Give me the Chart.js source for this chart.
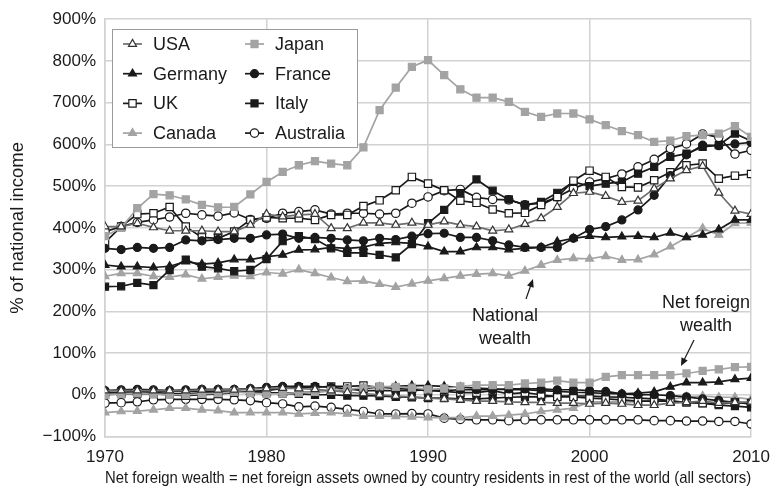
<!DOCTYPE html>
<html>
<head>
<meta charset="utf-8">
<script src="https://cdn.jsdelivr.net/npm/chart.js@4.4.0/dist/chart.umd.min.js"></script>
<style>
  html, body { margin: 0; padding: 0; background: #fff; }
</style>
</head>
<body>
<canvas id="chart" width="781" height="495"></canvas>
<script>
// years on the x axis
const years = [];
for (let y = 1970; y <= 2010; y++) years.push(y);

// national wealth, % of national income
const usaNW = [403, 403, 411, 401, 393, 393, 393, 391, 391, 407, 433, 427, 431, 433, 399, 399, 412, 412, 407, 412,
  407, 415, 407, 403, 393, 396, 409, 423, 450, 483, 486, 476, 462, 465, 494, 518, 538, 548, 484, 441, 433];
const japanNW = [380, 400, 447, 481, 478, 468, 455, 449, 450, 480, 510, 534, 550, 560, 554, 550, 593, 682, 736, 786,
  802, 766, 732, 712, 712, 702, 678, 666, 674, 674, 660, 646, 632, 622, 606, 609, 620, 622, 626, 644, 618];
const germanyNW = [311, 307, 307, 305, 308, 319, 313, 316, 324, 324, 331, 335, 347, 348, 353, 351, 354, 363, 365, 363,
  355, 343, 343, 353, 353, 348, 351, 353, 367, 375, 380, 377, 379, 380, 377, 388, 377, 383, 396, 419, 419];
const franceNW = [351, 348, 353, 351, 353, 371, 369, 372, 375, 375, 383, 385, 375, 377, 375, 371, 369, 375, 372, 380,
  386, 387, 377, 377, 369, 359, 353, 353, 353, 375, 396, 403, 419, 443, 478, 525, 575, 598, 597, 601, 605];
const ukNW = [365, 403, 433, 435, 450, 403, 377, 375, 391, 419, 425, 423, 423, 419, 431, 431, 452, 466, 490, 522,
  506, 490, 465, 460, 444, 435, 436, 455, 474, 513, 537, 522, 498, 497, 514, 533, 550, 554, 518, 525, 529];
const italyNW = [259, 260, 268, 263, 299, 324, 307, 303, 296, 299, 325, 368, 380, 373, 351, 340, 340, 335, 329, 361,
  411, 443, 483, 516, 489, 468, 455, 462, 484, 510, 500, 506, 510, 530, 546, 570, 578, 594, 598, 626, 608];
const canadaNW = [284, 291, 291, 284, 282, 288, 278, 282, 285, 284, 293, 290, 300, 291, 281, 272, 273, 265, 258, 266,
  273, 279, 285, 289, 291, 285, 297, 311, 323, 327, 326, 332, 323, 324, 336, 355, 377, 399, 383, 411, 412];
const australiaNW = [391, 403, 413, 419, 426, 435, 431, 428, 436, 420, 423, 435, 439, 443, 433, 435, 435, 433, 435, 459,
  474, 489, 492, 473, 468, 467, 455, 459, 474, 494, 510, 518, 529, 546, 564, 590, 601, 625, 617, 577, 586];

// net foreign wealth, % of national income
const usaNFW = [10, 10, 10, 10, 10, 10, 12, 12, 12, 14, 15, 16, 15, 13, 10, 6, 3, 0, -3, -5,
  -8, -10, -12, -15, -15, -17, -18, -18, -20, -20, -22, -20, -22, -25, -25, -20, -18, -15, -20, -18, -17];
const japanNFW = [0, 2, 4, 2, 0, 0, 2, 4, 7, 4, 2, 3, 5, 7, 10, 13, 17, 20, 19, 17,
  13, 15, 20, 23, 23, 23, 27, 29, 34, 29, 29, 43, 47, 47, 47, 47, 51, 57, 61, 66, 67];
const germanyNFW = [5, 5, 6, 7, 8, 8, 8, 8, 9, 7, 5, 4, 5, 7, 9, 12, 15, 18, 20, 22,
  22, 20, 18, 16, 14, 12, 12, 10, 8, 6, 5, 3, 2, 4, 7, 19, 29, 29, 31, 37, 40];
const franceNFW = [10, 12, 13, 12, 10, 12, 13, 13, 13, 15, 18, 20, 20, 20, 18, 14, 10, 10, 10, 10,
  12, 10, 12, 12, 12, 14, 14, 14, 12, 12, 10, 8, 2, 0, 0, -2, -5, -10, -14, -18, -22];
const ukNFW = [0, 2, 3, 2, 0, -2, 0, 2, 5, 8, 10, 15, 18, 18, 20, 20, 22, 18, 15, 13,
  10, 8, 5, 5, 10, 2, 5, 0, -5, -5, -8, -10, -12, -15, -15, -15, -18, -20, -22, -18, -20];
const italyNFW = [5, 6, 8, 6, 2, 2, 4, 5, 6, 6, 5, 3, 2, 0, 0, -2, -2, -3, -5, -6,
  -8, -8, -10, -10, -8, -6, -5, -5, -3, -3, -3, -5, -6, -8, -10, -15, -18, -20, -25, -27, -30];
const canadaNFW = [-43, -40, -39, -36, -32, -32, -36, -38, -43, -43, -43, -43, -46, -44, -43, -46, -51, -51, -52, -53,
  -55, -55, -55, -51, -51, -49, -46, -40, -36, -32, -17, -17, -17, -17, -12, -11, -5, -3, -6, -6, -11];
const australiaNFW = [-20, -19, -17, -12, -11, -11, -11, -11, -12, -14, -19, -22, -29, -27, -30, -35, -40, -46, -46, -45,
  -46, -56, -59, -60, -60, -62, -60, -60, -60, -60, -60, -60, -60, -60, -62, -62, -63, -63, -64, -64, -70];

const yTicks = [-100, 0, 100, 200, 300, 400, 500, 600, 700, 800, 900];

const FONT = "'Liberation Sans', Arial, sans-serif";
const GRAY = '#a3a3a3';

// look of each country
const countries = [
  { name: 'USA', nw: usaNW, nfw: usaNFW, line: '#6e6e6e', fill: '#ffffff', edge: '#333333', shape: 'triangle', r: 4.6 },
  { name: 'Japan', nw: japanNW, nfw: japanNFW, line: GRAY, fill: GRAY, edge: GRAY, shape: 'rect', r: 5 },
  { name: 'Germany', nw: germanyNW, nfw: germanyNFW, line: '#1a1a1a', fill: '#1a1a1a', edge: '#1a1a1a', shape: 'triangle', r: 4.6 },
  { name: 'France', nw: franceNW, nfw: franceNFW, line: '#1a1a1a', fill: '#1a1a1a', edge: '#1a1a1a', shape: 'circle', r: 4 },
  { name: 'UK', nw: ukNW, nfw: ukNFW, line: '#1a1a1a', fill: '#ffffff', edge: '#1a1a1a', shape: 'rect', r: 5.2 },
  { name: 'Italy', nw: italyNW, nfw: italyNFW, line: '#1a1a1a', fill: '#1a1a1a', edge: '#1a1a1a', shape: 'rect', r: 5 },
  { name: 'Canada', nw: canadaNW, nfw: canadaNFW, line: GRAY, fill: GRAY, edge: GRAY, shape: 'triangle', r: 4.6 },
  { name: 'Australia', nw: australiaNW, nfw: australiaNFW, line: '#1a1a1a', fill: '#ffffff', edge: '#1a1a1a', shape: 'circle', r: 4.2 }
];

function makeSet(c, data, kind) {
  return {
    label: c.name + ' ' + kind,
    data: data,
    borderColor: c.line,
    borderWidth: 1.7,
    pointStyle: c.shape,
    pointRadius: c.r,
    pointBackgroundColor: c.fill,
    pointBorderColor: c.edge,
    pointBorderWidth: 1.2,
    tension: 0,
    fill: false
  };
}

const datasets = [];
countries.forEach(c => datasets.push(makeSet(c, c.nw, 'national wealth')));
countries.forEach(c => datasets.push(makeSet(c, c.nfw, 'net foreign wealth')));

// legend box with line + marker, two columns
const boxLegend = {
  id: 'boxLegend',
  afterDatasetsDraw(chart) {
    const ctx = chart.ctx;
    ctx.save();
    ctx.fillStyle = '#ffffff';
    ctx.strokeStyle = '#9a9a9a';
    ctx.lineWidth = 1;
    ctx.fillRect(112.5, 29.5, 245, 118);
    ctx.strokeRect(112.5, 29.5, 245, 118);
    ctx.font = '18px ' + FONT;
    ctx.textBaseline = 'middle';
    countries.forEach((c, i) => {
      const col = i % 2, row = Math.floor(i / 2);
      const x0 = col === 0 ? 123 : 245;
      const y0 = 44 + row * 29.7;
      ctx.strokeStyle = c.line;
      ctx.lineWidth = 1.7;
      ctx.beginPath();
      ctx.moveTo(x0, y0);
      ctx.lineTo(x0 + 19, y0);
      ctx.stroke();
      ctx.fillStyle = c.fill;
      ctx.strokeStyle = c.edge;
      ctx.lineWidth = 1.2;
      Chart.helpers.drawPoint(ctx, { pointStyle: c.shape, radius: c.r, borderWidth: 1.2, rotation: 0 }, x0 + 9.5, y0);
      ctx.fillStyle = '#1a1a1a';
      ctx.textAlign = 'left';
      ctx.fillText(c.name, x0 + 30, y0 + 1);
    });
    ctx.restore();
  }
};

function arrow(ctx, x1, y1, x2, y2) {
  const a = Math.atan2(y2 - y1, x2 - x1);
  ctx.beginPath();
  ctx.moveTo(x1, y1);
  ctx.lineTo(x2 - 4 * Math.cos(a), y2 - 4 * Math.sin(a));
  ctx.stroke();
  ctx.beginPath();
  ctx.moveTo(x2, y2);
  ctx.lineTo(x2 - 8 * Math.cos(a) + 3.5 * Math.sin(a), y2 - 8 * Math.sin(a) - 3.5 * Math.cos(a));
  ctx.lineTo(x2 - 8 * Math.cos(a) - 3.5 * Math.sin(a), y2 - 8 * Math.sin(a) + 3.5 * Math.cos(a));
  ctx.closePath();
  ctx.fill();
}

// "National wealth" and "Net foreign wealth" notes
const notes = {
  id: 'notes',
  afterDatasetsDraw(chart) {
    const ctx = chart.ctx;
    ctx.save();
    ctx.fillStyle = '#1a1a1a';
    ctx.strokeStyle = '#1a1a1a';
    ctx.lineWidth = 1.2;
    ctx.font = '18px ' + FONT;
    ctx.textAlign = 'center';
    ctx.textBaseline = 'middle';
    ctx.fillText('National', 505, 316);
    ctx.fillText('wealth', 505, 339);
    ctx.fillText('Net foreign', 706, 303);
    ctx.fillText('wealth', 706, 326);
    arrow(ctx, 526, 299, 533, 279);
    arrow(ctx, 694, 340, 681, 366);
    ctx.restore();
  }
};

new Chart(document.getElementById('chart'), {
  type: 'line',
  data: { labels: years, datasets: datasets },
  options: {
    responsive: false,
    animation: false,
    layout: { padding: { top: 19, right: 22, bottom: 0, left: 0 } },
    plugins: {
      legend: { display: false },
      tooltip: { enabled: false }
    },
    scales: {
      x: {
        type: 'linear',
        min: 1970,
        max: 2010,
        afterFit: s => { s.height = 58.5; },
        ticks: {
          stepSize: 10,
          padding: 11,
          color: '#1a1a1a',
          font: { family: FONT, size: 17 },
          maxRotation: 0,
          callback: v => String(v)
        },
        grid: { color: '#d2d2d2', lineWidth: 1.5, drawTicks: false },
        border: { color: '#d2d2d2', width: 1.5 },
        title: {
          display: true,
          text: 'Net foreign wealth = net foreign assets owned by country residents in rest of the world (all sectors)',
          color: '#1a1a1a',
          font: { family: FONT, size: 16.6 },
          padding: { top: 0, bottom: 7 }
        }
      },
      y: {
        min: -100,
        max: 900,
        afterFit: s => { s.width = 105; },
        afterBuildTicks: s => { s.ticks = yTicks.map(v => ({ value: v })); },
        ticks: {
          padding: 9,
          color: '#1a1a1a',
          font: { family: FONT, size: 17 },
          callback: v => (v < 0 ? '\u2212' + Math.abs(v) : v) + '%'
        },
        grid: { color: '#d2d2d2', lineWidth: 1.5, drawTicks: false },
        border: { color: '#d2d2d2', width: 1.5 },
        title: {
          display: true,
          text: '% of national income',
          color: '#1a1a1a',
          font: { family: FONT, size: 18.5 },
          padding: { top: 7, bottom: 0 }
        }
      }
    }
  },
  plugins: [boxLegend, notes]
});
</script>
</body>
</html>
